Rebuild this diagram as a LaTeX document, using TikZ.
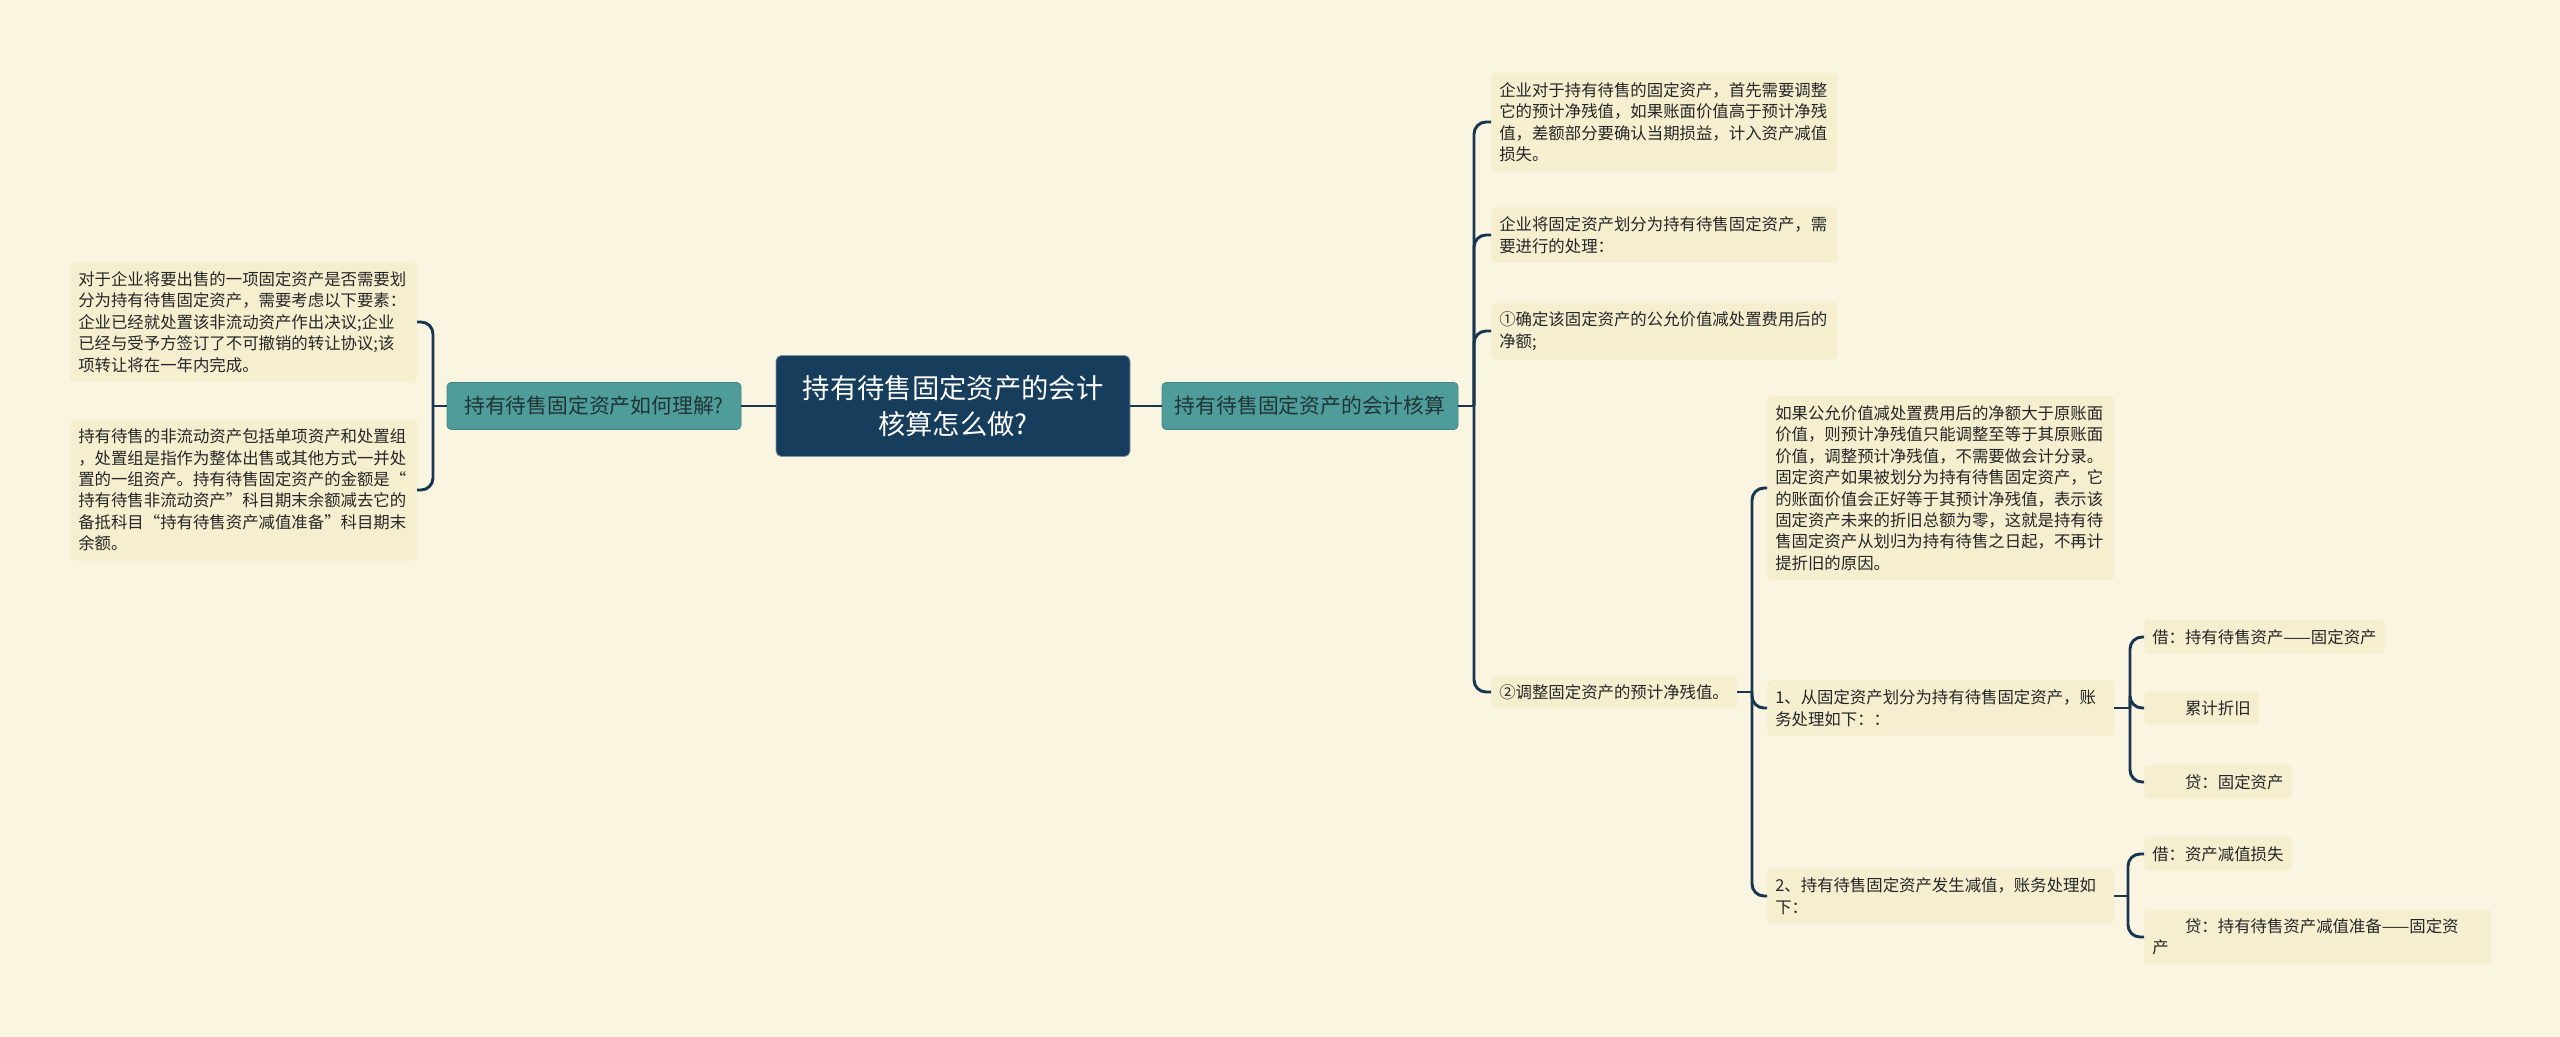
\documentclass[tikz,border=0pt]{standalone}
\usepackage{fontspec}
\setmainfont{Noto Sans CJK SC}
\usetikzlibrary{calc}

\definecolor{paper}{HTML}{FAF5E1}
\definecolor{leaffill}{HTML}{F5EECF}
\definecolor{rootfill}{HTML}{173D5C}
\definecolor{branchfill}{HTML}{4F9D9B}
\definecolor{linkcol}{HTML}{183552}
\definecolor{inkcol}{HTML}{262626}

\begin{document}
\begin{tikzpicture}[x=0.75pt, y=-0.75pt,
    leaf/.style={fill=leaffill, rounded corners=3pt, inner xsep=6pt, inner ysep=7pt,
        align=left, anchor=west, text=inkcol, font=\fontsize{12.3}{16.1}\selectfont},
    wide/.style={leaf, text width=248pt},
    branch/.style={fill=branchfill, draw=branchfill!85!black, line width=0.5pt,
        rounded corners=3pt, minimum height=35.25pt, inner sep=0pt,
        text=inkcol!85!teal, font=\fontsize{15.6}{18}\selectfont},
    root/.style={fill=rootfill, draw=rootfill!55!white, line width=0.6pt, rounded corners=4pt,
        minimum width=265.5pt, minimum height=75.75pt, align=center, text=white,
        font=\fontsize{20.5}{27}\selectfont},
    link/.style={draw=linkcol, line width=2.2pt},
    elbow/.style={link, rounded corners=9pt}]

    % paper
    \fill [paper] (0,0) rectangle (2560,1037);

    % centre and first level
    \node [root] (root) at (953,406) {持有待售固定资产的会计\\核算怎么做?};
    \node [branch, minimum width=220.5pt] (ask) at (594,406) {持有待售固定资产如何理解?};
    \node [branch, minimum width=222pt] (calc) at (1310,406) {持有待售固定资产的会计核算};
    \draw [link] (root) -- (ask);
    \draw [link] (root) -- (calc);

    % left side
    \node [wide] (factors) at (70,322) {对于企业将要出售的一项固定资产是否需要划\\分为持有待售固定资产，需要考虑以下要素：\\企业已经就处置该非流动资产作出决议;企业\\已经与受予方签订了不可撤销的转让协议;该\\项转让将在一年内完成。};
    \node [wide] (group) at (70,490) {持有待售的非流动资产包括单项资产和处置组\\，处置组是指作为整体出售或其他方式一并处\\置的一组资产。持有待售固定资产的金额是“\\持有待售非流动资产”科目期末余额减去它的\\备抵科目“持有待售资产减值准备”科目期末\\余额。};
    \coordinate (askj) at (433,406);
    \draw [link] (ask) -- (askj);
    \draw [elbow] (askj) |- (factors.east);
    \draw [elbow] (askj) |- (group.east);

    % right side
    \node [wide] (adjust) at (1491,122) {企业对于持有待售的固定资产，首先需要调整\\它的预计净残值，如果账面价值高于预计净残\\值，差额部分要确认当期损益，计入资产减值\\损失。};
    \node [wide] (steps) at (1491,235) {企业将固定资产划分为持有待售固定资产，需\\要进行的处理：};
    \node [wide] (stepone) at (1491,331) {①确定该固定资产的公允价值减处置费用后的\\净额;};
    \node [leaf] (steptwo) at (1491,692) {②调整固定资产的预计净残值。};
    \coordinate (calcj) at (1474,406);
    \draw [link] (calc) -- (calcj);
    \foreach \n in {adjust, steps, stepone, steptwo}
        \draw [elbow] (calcj) |- (\n.west);

    % second step
    \node [wide] (reason) at (1767,488) {如果公允价值减处置费用后的净额大于原账面\\价值，则预计净残值只能调整至等于其原账面\\价值，调整预计净残值，不需要做会计分录。\\固定资产如果被划分为持有待售固定资产，它\\的账面价值会正好等于其预计净残值，表示该\\固定资产未来的折旧总额为零，这就是持有待\\售固定资产从划归为持有待售之日起，不再计\\提折旧的原因。};
    \node [wide] (transfer) at (1767,708) {1、从固定资产划分为持有待售固定资产，账\\务处理如下：：};
    \node [wide] (impair) at (1767,896) {2、持有待售固定资产发生减值，账务处理如\\下：};
    \coordinate (twoj) at (1752,692);
    \draw [link] (steptwo) -- (twoj);
    \foreach \n in {reason, transfer, impair}
        \draw [elbow] (twoj) |- (\n.west);

    % entries
    \node [leaf] (debitA) at (2144,637) {借：持有待售资产——固定资产};
    \node [leaf] (deprec) at (2144,708) {　　累计折旧};
    \node [leaf] (creditA) at (2144,782) {　　贷：固定资产};
    \coordinate (transj) at (2130,708);
    \draw [link] (transfer) -- (transj);
    \foreach \n in {debitA, deprec, creditA}
        \draw [elbow] (transj) |- (\n.west);

    \node [leaf] (debitB) at (2144,854) {借：资产减值损失};
    \node [wide] (creditB) at (2144,937) {　　贷：持有待售资产减值准备——固定资\\产};
    \coordinate (impj) at (2128,896);
    \draw [link] (impair) -- (impj);
    \foreach \n in {debitB, creditB}
        \draw [elbow] (impj) |- (\n.west);
\end{tikzpicture}
\end{document}
